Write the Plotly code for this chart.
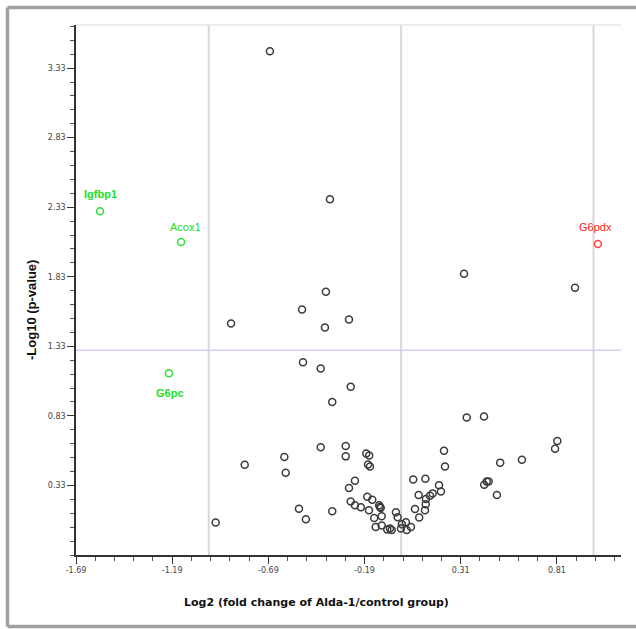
import plotly.graph_objects as go

# ---- data ----
log2_fc = [-0.682, -0.370, 0.327, 0.904, -0.391, -0.515, -0.884, -0.271, -0.396, -0.510,
           -0.418, -0.262, -0.358, 0.341, 0.431, 0.812, 0.800, 0.223, 0.228, 0.515,
           0.628, 0.432, 0.445, 0.455, 0.498, 0.197, 0.207, 0.164, 0.150, 0.063,
           0.126, 0.091, 0.072, 0.094, 0.128, 0.129, 0.124, -0.027, -0.018, -0.001,
           0.004, 0.025, 0.029, 0.051, -0.072, -0.058, -0.049, -0.132, -0.101, -0.140,
           -0.101, -0.114, -0.110, -0.106, -0.167, -0.176, -0.150, -0.209, -0.240, -0.262,
           -0.358, -0.240, -0.271, -0.181, -0.166, -0.172, -0.162, -0.288, -0.288, -0.418,
           -0.607, -0.600, -0.813, -0.531, -0.495, -0.964]
neg_log10_p = [3.451, 2.387, 1.851, 1.751, 1.723, 1.594, 1.494, 1.523, 1.466, 1.216,
               1.171, 1.039, 0.930, 0.818, 0.825, 0.649, 0.594, 0.580, 0.466, 0.494,
               0.514, 0.335, 0.359, 0.359, 0.261, 0.332, 0.287, 0.273, 0.256, 0.373,
               0.378, 0.261, 0.161, 0.099, 0.194, 0.232, 0.151, 0.137, 0.101, 0.021,
               0.051, 0.066, 0.009, 0.032, 0.014, 0.021, 0.009, 0.032, 0.042, 0.096,
               0.109, 0.187, 0.175, 0.168, 0.151, 0.249, 0.228, 0.173, 0.187, 0.214,
               0.144, 0.364, 0.311, 0.559, 0.546, 0.480, 0.466, 0.614, 0.539, 0.604,
               0.535, 0.421, 0.478, 0.162, 0.087, 0.064]

down_genes = ["Igfbp1", "Acox1", "G6pc"]
down_x = [-1.565, -1.144, -1.207]
down_y = [2.301, 2.080, 1.137]

up_genes = ["G6pdx"]
up_x = [1.023]
up_y = [2.066]

x_tickvals = [-1.69, -1.19, -0.69, -0.19, 0.31, 0.81]
x_ticktext = ["-1.69", "-1.19", "-0.69", "-0.19", "0.31", "0.81"]
y_tickvals = [0.33, 0.83, 1.33, 1.83, 2.33, 2.83, 3.33]
y_ticktext = ["0.33", "0.83", "1.33", "1.83", "2.33", "2.83", "3.33"]

fc_lines = [-1.0, 0.0, 1.0]
p_threshold = 1.301

fig = go.Figure()

for xv in fc_lines:
    fig.add_shape(type="line", xref="x", yref="paper", x0=xv, x1=xv, y0=0, y1=1,
                  line=dict(color="#d8d8d8", width=2), layer="below")
fig.add_shape(type="line", xref="paper", yref="y", x0=0, x1=1, y0=p_threshold, y1=p_threshold,
              line=dict(color="#cfcff8", width=1.5), layer="below")
# light top edge of plot area
fig.add_shape(type="line", xref="paper", yref="paper", x0=0, x1=1, y0=1, y1=1,
              line=dict(color="#e6e6e6", width=1.5), layer="below")
# outer grey frame (left, top, bottom; right edge is outside the view)
fig.add_shape(type="line", xref="paper", yref="paper", x0=-0.1257, x1=-0.1257, y0=-0.1349, y1=1.033,
              line=dict(color="#a0a0a0", width=3.5), layer="below")
fig.add_shape(type="line", xref="paper", yref="paper", x0=-0.1257, x1=1.2, y0=1.033, y1=1.033,
              line=dict(color="#a0a0a0", width=3.5), layer="below")
fig.add_shape(type="line", xref="paper", yref="paper", x0=-0.1257, x1=1.2, y0=-0.1349, y1=-0.1349,
              line=dict(color="#a0a0a0", width=3.5), layer="below")

fig.add_trace(go.Scatter(x=log2_fc, y=neg_log10_p, mode="markers",
                         marker=dict(symbol="circle-open", size=7, color="#3a3a3a",
                                     line=dict(width=1.5)),
                         hoverinfo="x+y", showlegend=False))
fig.add_trace(go.Scatter(x=down_x, y=down_y, mode="markers", text=down_genes,
                         marker=dict(symbol="circle-open", size=7, color="#33dd33",
                                     line=dict(width=1.5)),
                         showlegend=False))
fig.add_trace(go.Scatter(x=up_x, y=up_y, mode="markers", text=up_genes,
                         marker=dict(symbol="circle-open", size=7, color="#ff4040",
                                     line=dict(width=1.5)),
                         showlegend=False))

shifts = {"Igfbp1": (0, 17, True), "Acox1": (4, 15, False), "G6pc": (1, -20, True)}
for g, xv, yv in zip(down_genes, down_x, down_y):
    dx, dy, bold = shifts[g]
    fig.add_annotation(x=xv, y=yv, xref="x", yref="y", text=f"<b>{g}</b>" if bold else g,
                       showarrow=False, xshift=dx, yshift=dy,
                       font=dict(family="Liberation Sans", size=11, color="#22dd22"))
for g, xv, yv in zip(up_genes, up_x, up_y):
    fig.add_annotation(x=xv, y=yv, xref="x", yref="y", text=g, showarrow=False,
                       xshift=-2, yshift=17,
                       font=dict(family="Liberation Sans", size=11, color="#ff2020"))

fig.add_annotation(text="<b>Log2 (fold change of Alda-1/control group)</b>",
                   xref="paper", yref="paper", x=(316 - 76) / 545, y=(555 - 602) / 530,
                   showarrow=False, xanchor="center", yanchor="middle",
                   font=dict(family="DejaVu Sans", size=11, color="#111111"))
fig.add_annotation(text="<b>-Log10 (p-value)</b>", textangle=-90,
                   xref="paper", yref="paper", x=(31 - 76) / 545, y=(555 - 310) / 530,
                   showarrow=False, xanchor="center", yanchor="middle",
                   font=dict(family="Liberation Sans", size=13, color="#111111"))

tickfont = dict(family="DejaVu Sans", size=8, color="#444444")
fig.update_xaxes(range=[-1.69, 1.143], tickmode="array", tickvals=x_tickvals, ticktext=x_ticktext,
                 showgrid=False, zeroline=False, showline=True, linecolor="#333333", linewidth=1.5,
                 ticks="outside", ticklen=7, tickcolor="#333333", tickfont=tickfont,
                 minor=dict(ticks="outside", tick0=-1.69, dtick=0.1, ticklen=4, tickcolor="#555555"))
fig.update_yaxes(range=[-0.17, 3.64], tickmode="array", tickvals=y_tickvals, ticktext=y_ticktext,
                 showgrid=False, zeroline=False, showline=True, linecolor="#333333", linewidth=1.5,
                 ticks="outside", ticklen=7, tickcolor="#333333", tickfont=tickfont,
                 minor=dict(ticks="outside", tick0=0.33, dtick=0.1, ticklen=4, tickcolor="#555555"))

fig.update_layout(width=636, height=629, margin=dict(l=76, r=15, t=25, b=74),
                  plot_bgcolor="white", paper_bgcolor="white", showlegend=False)

fig.write_html("out.html", config={"displayModeBar": False},
               post_script="document.body.style.margin='0px';document.body.style.overflow='hidden';")
